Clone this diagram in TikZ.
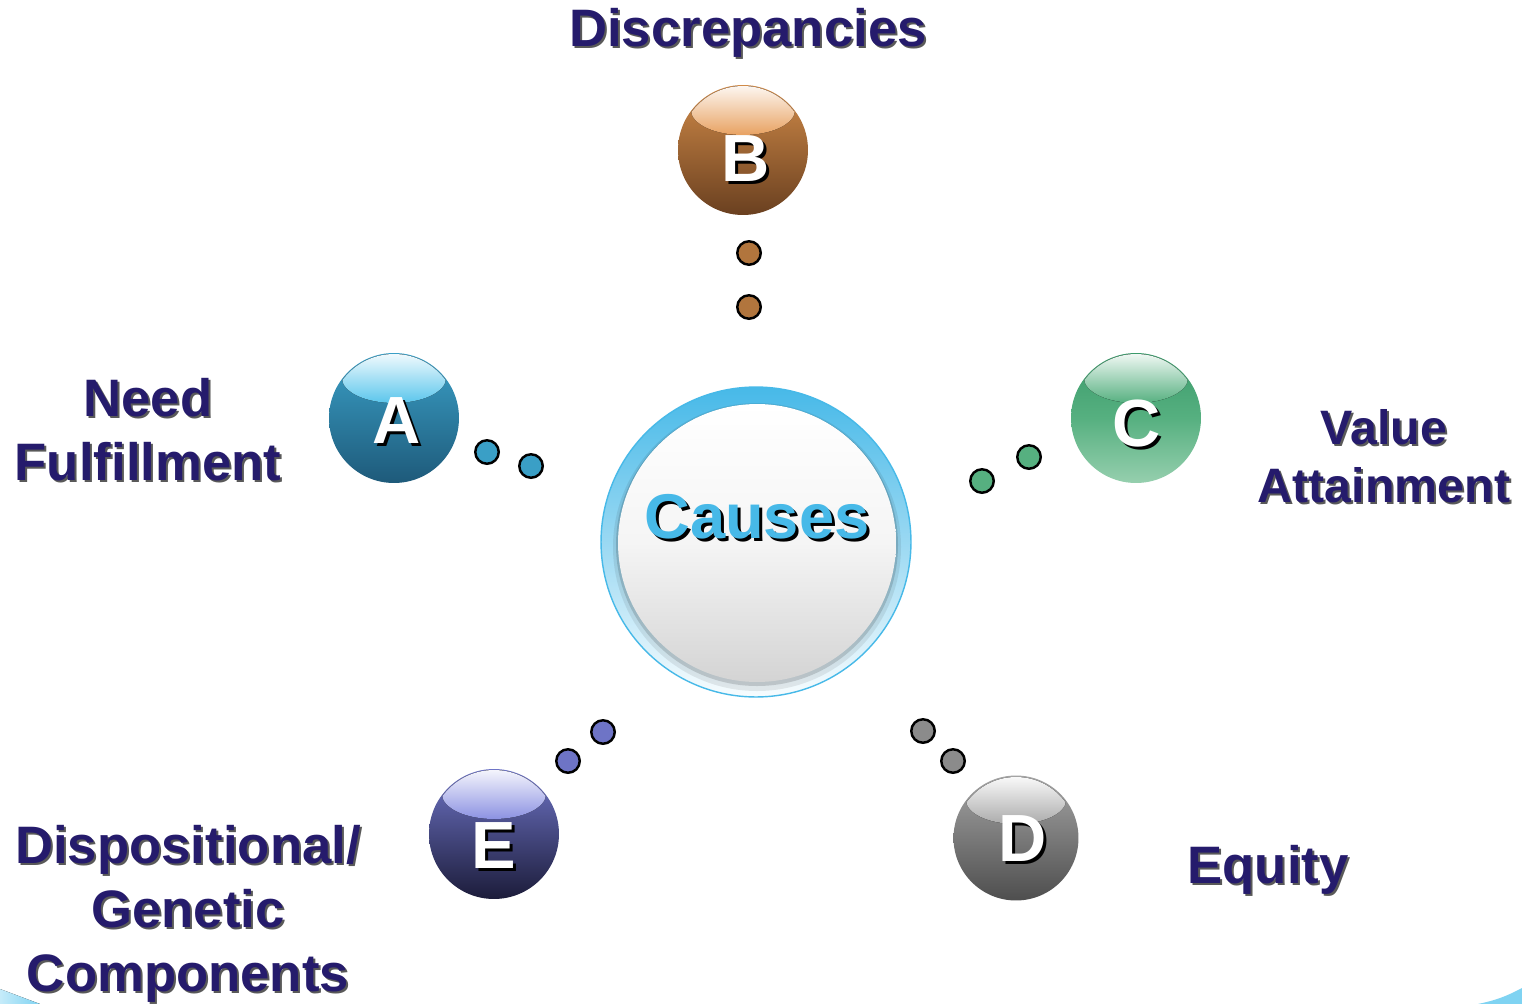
\documentclass[tikz,border=0pt]{standalone}
\usepackage{fontspec}
\setmainfont{Liberation Sans}
\usetikzlibrary{shapes.geometric}
\definecolor{ink}{HTML}{251B6C}
\definecolor{sky}{HTML}{47B9E8}
\definecolor{skylt}{HTML}{7FD3F2}
% sphere colours: light top, dark bottom, gloss
\definecolor{bluetop}{HTML}{3A9FC6}
\definecolor{bluebot}{HTML}{1E5A7A}
\definecolor{bluegl}{HTML}{5BC6EC}
\definecolor{ortop}{HTML}{D08A48}
\definecolor{orbot}{HTML}{6A4020}
\definecolor{orgl}{HTML}{E8A262}
\definecolor{grtop}{HTML}{3A9A6A}
\definecolor{grbot}{HTML}{96CFAE}
\definecolor{grgl}{HTML}{56B080}
\definecolor{gytop}{HTML}{A4A4A4}
\definecolor{gybot}{HTML}{4E4E4E}
\definecolor{gygl}{HTML}{ABABAB}
\definecolor{vitop}{HTML}{6E74C6}
\definecolor{vibot}{HTML}{1C1C3A}
\definecolor{vigl}{HTML}{8C92E2}
\tikzset{
  ball/.style={circle, minimum size=2.6cm, inner sep=0pt},
  dot/.style={circle, draw=black, line width=1.4pt, minimum size=0.47cm, inner sep=0pt},
  letter/.style={font=\fontsize{38}{38}\selectfont\bfseries, text=white},
  lettershade/.style={letter, text=black},
  lbl/.style={font=\fontsize{30}{36.4}\selectfont\bfseries, text=ink, align=center},
  lblshade/.style={lbl, text=black!65}
}

\begin{document}
\begin{tikzpicture}[x=0.02cm,y=-0.02cm]
  \useasboundingbox (0,0) rectangle (1522,1004);
  \fill[white] (0,0) rectangle (1522,1004);

  % light blue corners at the bottom
  \fill[left color=skylt!45, right color=skylt] (0,989) -- (40,1004) -- (0,1004) -- cycle;
  \fill[skylt] (1522,988) to[bend left=8] (1478,1004) -- (1522,1004) -- cycle;

  % centre button
  \node[circle, minimum size=6.2cm, inner sep=0pt, draw=sky, line width=0.8pt,
        top color=sky, bottom color=sky!4, middle color=sky!55] (ring) at (756,542) {};
  \fill[black, opacity=0.08] (757,547) circle (144);
  \fill[black, opacity=0.14] (757,545) circle (141);
  \node[circle, minimum size=5.56cm, inner sep=0pt,
        top color=white, bottom color=black!17, middle color=black!4] (core) at (757,543) {};
  \node[font=\fontsize{36}{36}\selectfont\bfseries, text=black] (causesS) at (760,520) {Causes};
  \node[font=\fontsize{36}{36}\selectfont\bfseries, text=sky] (causes) at (757,517) {Causes};

  % A
  \node[ball, top color=bluetop, bottom color=bluebot] (ballA) at (394,418) {};
  \begin{scope}
    \clip (394,418) circle (64);
    \fill[top color=white!92!bluegl, bottom color=bluegl] (394,378) ellipse [x radius=52, y radius=25];
  \end{scope}
  \node[lettershade] (sA) at (400,424) {A};
  \node[letter] (capA) at (397,421) {A};
  \node[dot, fill=bluetop] (a1) at (487,452) {};
  \node[dot, fill=bluetop] (a2) at (531,466) {};

  % B
  \node[ball, top color=ortop, bottom color=orbot] (ballB) at (743,150) {};
  \begin{scope}
    \clip (743,150) circle (64);
    \fill[top color=white!92!orgl, bottom color=orgl] (743,110) ellipse [x radius=52, y radius=25];
  \end{scope}
  \node[lettershade] (sB) at (749,162) {B};
  \node[letter] (capB) at (746,159) {B};
  \node[dot, fill=ortop!85!black] (b1) at (749,253) {};
  \node[dot, fill=ortop!85!black] (b2) at (749,307) {};

  % C
  \node[ball, top color=grtop, bottom color=grbot, middle color=grgl] (ballC) at (1136,418) {};
  \begin{scope}
    \clip (1136,418) circle (64);
    \fill[top color=white!92!grgl, bottom color=grgl] (1136,378) ellipse [x radius=52, y radius=25];
  \end{scope}
  \node[lettershade] (sC) at (1140,427) {C};
  \node[letter] (capC) at (1137,424) {C};
  \node[dot, fill=grgl] (c1) at (982,481) {};
  \node[dot, fill=grgl] (c2) at (1029,457) {};

  % D
  \node[ball, minimum size=2.5cm, top color=gytop, bottom color=gybot] (ballD) at (1016,838) {};
  \begin{scope}
    \clip (1016,838) circle (61);
    \fill[top color=white!94!gygl, bottom color=gygl] (1016,800) ellipse [x radius=50, y radius=24];
  \end{scope}
  \node[lettershade] (sD) at (1026,842) {D};
  \node[letter] (capD) at (1023,839) {D};
  \node[dot, fill=gytop!85!black] (d1) at (923,731) {};
  \node[dot, fill=gytop!85!black] (d2) at (953,761) {};

  % E
  \node[ball, top color=vitop, bottom color=vibot] (ballE) at (494,834) {};
  \begin{scope}
    \clip (494,834) circle (64);
    \fill[top color=white!92!vigl, bottom color=vigl] (494,794) ellipse [x radius=52, y radius=25];
  \end{scope}
  \node[lettershade] (sE) at (497,849) {E};
  \node[letter] (capE) at (494,846) {E};
  \node[dot, fill=vitop] (e1) at (568,761) {};
  \node[dot, fill=vitop] (e2) at (603,732) {};

  % labels
  \node[lblshade] (discS) at (750,35) {Discrepancies};
  \node[lbl] (disc) at (748,33) {Discrepancies};
  \node[lblshade] (needS) at (150,432) {Need\\Fulfillment};
  \node[lbl] (need) at (148,430) {Need\\Fulfillment};
  \node[lblshade, font=\fontsize{27.5}{33}\selectfont\bfseries] (valueS) at (1386,458) {Value\\Attainment};
  \node[lbl, font=\fontsize{27.5}{33}\selectfont\bfseries] (value) at (1384,456) {Value\\Attainment};
  \node[lblshade] (equityS) at (1270,872) {Equity};
  \node[lbl] (equity) at (1268,870) {Equity};
  \node[lblshade] (dispS) at (190,916) {Dispositional/\\Genetic\\Components};
  \node[lbl] (disp) at (188,914) {Dispositional/\\Genetic\\Components};
\end{tikzpicture}
\end{document}
